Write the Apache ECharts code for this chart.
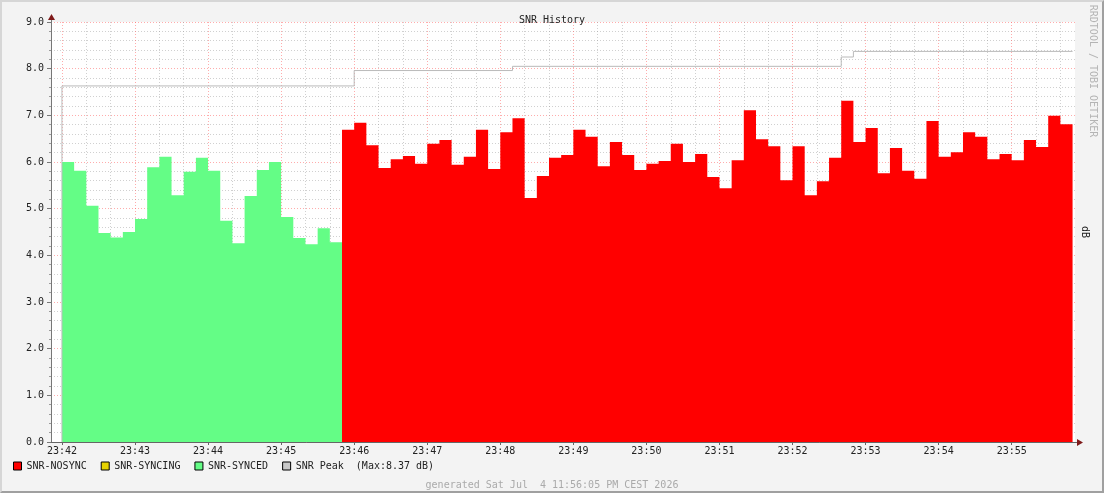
<!DOCTYPE html>
<html>
<head>
<meta charset="utf-8"/>
<title>SNR History</title>
<script src="https://cdn.jsdelivr.net/npm/echarts@6/dist/echarts.min.js"></script>
<style>
html,body{margin:0;padding:0;background:#f3f3f3;}
#wrap{position:relative;width:1104px;height:493px;}
#chart{position:absolute;left:0;top:0;width:1104px;height:493px;}
#frame{position:absolute;left:0;top:0;width:1104px;height:493px;box-sizing:border-box;
  border-style:solid;border-width:2px;border-color:#d6d6d6 #a0a0a0 #a0a0a0 #d6d6d6;pointer-events:none;}
</style>
</head>
<body>
<div id="wrap">
  <div id="chart"></div>
  <div id="frame"></div>
</div>
<script>
// seconds after 23:42:00, one sample every 10 s
var stepSec = 10;
var syncedStart = 0;
var syncedValues = [6.00, 5.81, 5.06, 4.48, 4.38, 4.50, 4.78, 5.89, 6.11, 5.29, 5.79, 6.09,
  5.81, 4.74, 4.26, 5.27, 5.83, 6.00, 4.82, 4.37, 4.24, 4.58, 4.28];
var nosyncStart = 230;
var nosyncValues = [6.69, 6.84, 6.36, 5.87, 6.06, 6.13, 5.96, 6.39, 6.47, 5.94, 6.11, 6.69,
  5.85, 6.64, 6.94, 5.23, 5.70, 6.09, 6.15, 6.69, 6.54, 5.91, 6.43, 6.15, 5.83, 5.96, 6.02,
  6.39, 6.00, 6.17, 5.68, 5.44, 6.04, 7.11, 6.49, 6.34, 5.61, 6.34, 5.29, 5.59, 6.09, 7.31,
  6.43, 6.73, 5.76, 6.30, 5.81, 5.64, 6.88, 6.11, 6.21, 6.64, 6.54, 6.06, 6.17, 6.04, 6.47,
  6.32, 6.99, 6.81];
var syncingValues = [];
var peakTimes = [0, 0, 240, 370, 640, 650, 830];
var peakValues = [0, 7.63, 7.96, 8.05, 8.25, 8.37, 8.37];

var timeLabels = ['23:42', '23:43', '23:44', '23:45', '23:46', '23:47', '23:48',
  '23:49', '23:50', '23:51', '23:52', '23:53', '23:54', '23:55'];

var mono = 'DejaVu Sans Mono';

function stepPoints(start, values) {
  var pts = values.map(function (v, i) { return [start + i * stepSec, v]; });
  if (values.length) pts.push([start + values.length * stepSec, values[values.length - 1]]);
  return pts;
}

var minuteTicks = timeLabels.map(function (s, i) { return i * 60; });
var minorTicks = [];
for (var t = 20; t <= 830; t += 20) { if (t % 60 !== 0) minorTicks.push(t); }

var peakMax = Math.max.apply(null, peakValues);

var chart = echarts.init(document.getElementById('chart'));
chart.setOption({
  animation: false,
  backgroundColor: '#f3f3f3',
  title: [
    { text: 'SNR History', left: 'center', top: 10,
      textStyle: { fontFamily: mono, fontSize: 10, fontWeight: 'normal', color: '#222' } },
    { text: 'generated Sat Jul  4 11:56:05 PM CEST 2026', left: 'center', top: 475,
      textStyle: { fontFamily: mono, fontSize: 10, fontWeight: 'normal', color: '#aaa' } }
  ],
  legend: {
    data: ['SNR-NOSYNC', 'SNR-SYNCING', 'SNR-SYNCED', 'SNR Peak'],
    left: 13, top: 461, padding: 0, icon: 'rect', itemWidth: 8, itemHeight: 8, itemGap: 14,
    selectedMode: false,
    itemStyle: { borderColor: '#000', borderWidth: 1 },
    textStyle: { fontFamily: mono, fontSize: 10, color: '#222' },
    formatter: function (name) {
      return name === 'SNR Peak' ? name + '  (Max:' + peakMax.toFixed(2) + ' dB)' : name;
    }
  },
  grid: { left: 51, top: 22, right: 29, bottom: 51, show: true,
    backgroundColor: '#fff', borderWidth: 0 },
  xAxis: [{
    type: 'value', min: -9, max: 832, z: 3,
    axisLine: { onZero: false, lineStyle: { color: '#666', width: 1 } },
    axisTick: { customValues: minuteTicks, length: 3, lineStyle: { color: '#666' } },
    axisLabel: { customValues: minuteTicks, margin: 4, fontFamily: mono, fontSize: 10, color: '#222',
      formatter: function (v) { return timeLabels[Math.round(v / 60)]; } },
    splitLine: { show: true, lineStyle: { color: 'rgba(255,90,90,0.5)', type: [1, 2] } }
  }, {
    type: 'value', min: -9, max: 832, z: 3, position: 'top',
    axisLine: { show: false },
    axisTick: { show: false, customValues: minorTicks },
    axisLabel: { show: false, customValues: minorTicks },
    splitLine: { show: true, lineStyle: { color: 'rgba(150,150,150,0.45)', type: [1, 2] } }
  }],
  yAxis: {
    type: 'value', min: 0, max: 9, interval: 1, z: 3,
    axisLine: { show: true, onZero: false, lineStyle: { color: '#777', width: 1 } },
    axisTick: { show: true, length: 4, lineStyle: { color: '#777' } },
    minorTick: { show: true, splitNumber: 5, length: 2, lineStyle: { color: '#999' } },
    axisLabel: { margin: 7, fontFamily: mono, fontSize: 10, color: '#222',
      formatter: function (v) { return v.toFixed(1); } },
    splitLine: { show: true, lineStyle: { color: 'rgba(255,90,90,0.5)', type: [1, 2] } },
    minorSplitLine: { show: true, lineStyle: { color: 'rgba(150,150,150,0.45)', type: [1, 2] } }
  },
  series: [
    { name: 'SNR-NOSYNC', type: 'line', step: 'end', showSymbol: false,
      data: stepPoints(nosyncStart, nosyncValues),
      itemStyle: { color: '#ff0000' }, lineStyle: { width: 0 },
      areaStyle: { color: '#ff0000', opacity: 1 } },
    { name: 'SNR-SYNCING', type: 'line', step: 'end', showSymbol: false,
      data: stepPoints(0, syncingValues),
      itemStyle: { color: '#e6d200' }, lineStyle: { width: 0 },
      areaStyle: { color: '#e6d200', opacity: 1 } },
    { name: 'SNR-SYNCED', type: 'line', step: 'end', showSymbol: false,
      data: stepPoints(syncedStart, syncedValues),
      itemStyle: { color: '#64fd86' }, lineStyle: { width: 0 },
      areaStyle: { color: '#64fd86', opacity: 1 } },
    { name: 'SNR Peak', type: 'line', step: 'end', showSymbol: false,
      data: peakTimes.map(function (t, i) { return [t, peakValues[i]]; }),
      itemStyle: { color: '#c8c8c8' },
      lineStyle: { color: '#bababa', width: 1 } }
  ],
  graphic: [
    { type: 'line', shape: { x1: 51.5, y1: 22, x2: 51.5, y2: 17 }, style: { stroke: '#777' } },
    { type: 'polygon', shape: { points: [[48, 20], [55, 20], [51.5, 14]] }, style: { fill: '#7f1a1a' } },
    { type: 'line', shape: { x1: 1075, y1: 442.5, x2: 1078, y2: 442.5 }, style: { stroke: '#666' } },
    { type: 'polygon', shape: { points: [[1077, 439], [1077, 446], [1083, 442.5]] }, style: { fill: '#7f1a1a' } },
    { type: 'text', x: 1093, y: 71, rotation: -Math.PI / 2,
      style: { text: 'RRDTOOL / TOBI OETIKER', font: '10px "DejaVu Sans Mono"', fill: '#b4b4b4',
        align: 'center', verticalAlign: 'middle' } },
    { type: 'text', x: 1085, y: 232, rotation: -Math.PI / 2,
      style: { text: 'dB', font: '10px "DejaVu Sans Mono"', fill: '#222',
        align: 'center', verticalAlign: 'middle' } }
  ]
});
</script>
</body>
</html>
